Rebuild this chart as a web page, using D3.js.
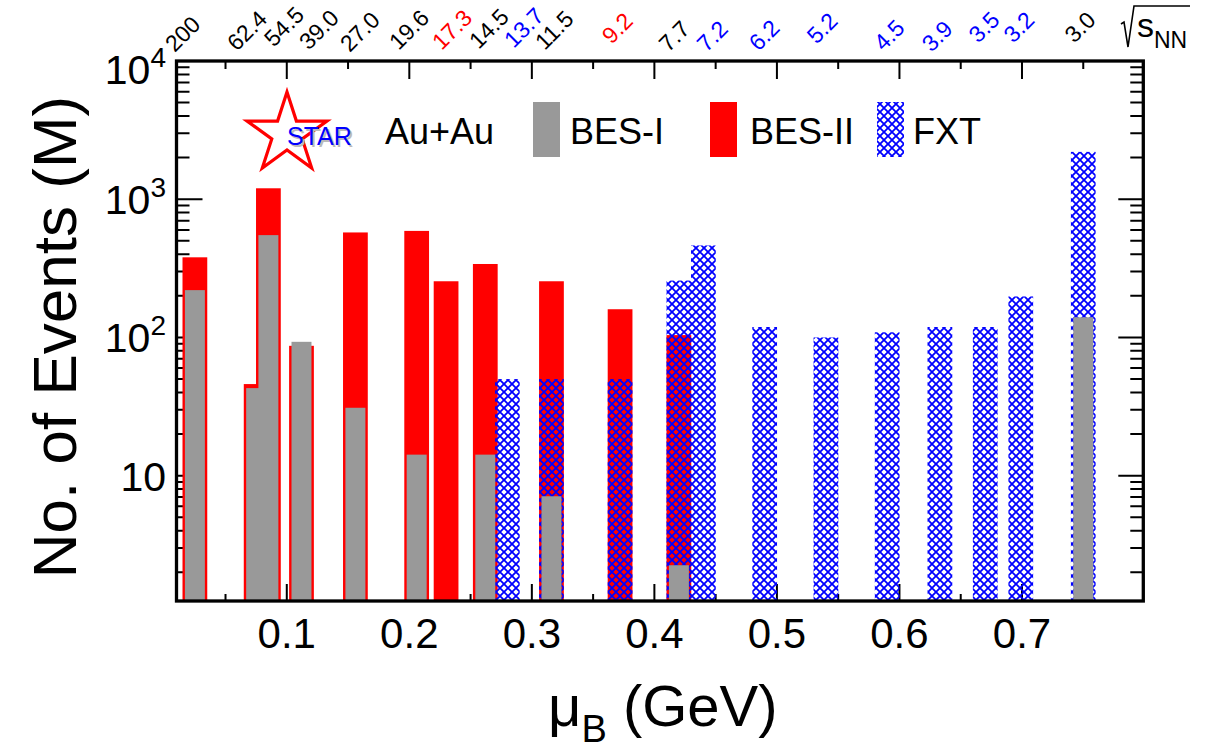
<!DOCTYPE html>
<html>
<head>
<meta charset="utf-8">
<script src="https://cdn.jsdelivr.net/npm/d3@7"></script>
<style>
  body { margin: 0; background: #fff; }
  svg { display: block; }
</style>
</head>
<body>
<svg id="chart"></svg>
<script>
// Data
const energies = ["200", "62.4", "54.5", "39.0", "27.0", "19.6", "17.3", "14.5", "13.7", "11.5",
                  "9.2", "7.7", "7.2", "6.2", "5.2", "4.5", "3.9", "3.5", "3.2", "3.0"];
const muB = [0.025, 0.075, 0.085, 0.112, 0.156, 0.206, 0.230, 0.262, 0.280, 0.316,
             0.372, 0.420, 0.440, 0.490, 0.540, 0.590, 0.633, 0.670, 0.699, 0.750];
// events in millions, null = no data at that energy
const besI  = [220, 43, 550, 93, 31, 14.2, null, 14.2, null, 7.1,
               null, 2.25, null, null, null, null, null, null, null, 140];
const besII = [380, 46, 1200, 87, 575, 590, 255, 340, null, 255,
               160, 104, null, null, null, null, null, null, null, null];
const fxt   = [null, null, null, null, null, null, null, null, 50, 50,
               50, 258, 463, 119, 100, 109, 119, 119, 198, 2200];

const xTicks = [0.1, 0.2, 0.3, 0.4, 0.5, 0.6, 0.7];
const yTicks = [10, 100, 1000, 10000];

// where the rotated sqrt(sNN) labels sit (muB of anchor, lift in px)
const labelMu   = [0.0086, 0.0592, 0.0894, 0.1179, 0.1514, 0.1914, 0.2265, 0.2566, 0.2852, 0.3105,
                   0.3651, 0.4116, 0.4426, 0.4850, 0.5323, 0.5869, 0.6261, 0.6644, 0.6929, 0.7427];
const labelLift = [0, 1, 5, 2, 0, 2, 2, 3, 4, 2, 8, 0, 0, 1, 8, 1, 0, 9, 9, 9];

// Configurations
const width = 1217, height = 751;
const font = "'Liberation Sans', Arial, Helvetica, sans-serif";
const wideBar = 0.0202;   // BES-II and FXT bar width in muB
const thinBar = 0.0163;   // BES-I bar width in muB
const red = "#ff0000", gray = "#999999", blue = "#0000ff";

const x = d3.scaleLinear([0.01, 0.799], [176.5, 1143.3]);
const y = d3.scaleLog([1.24, 1e4], [601, 61]);
const [x0, x1] = x.range();
const [y0, y1] = y.range();

const svg = d3.select("#chart")
  .attr("width", width)
  .attr("height", height)
  .attr("viewBox", [0, 0, width, height])
  .style("font-family", font);

svg.append("defs").append("pattern")
  .attr("id", "hatch")
  .attr("patternUnits", "userSpaceOnUse")
  .attr("width", 8).attr("height", 8)
  .append("path")
  .attr("d", "M-1,-1L9,9M9,-1L-1,9")
  .attr("stroke", blue)
  .attr("stroke-width", 1.8);

// ticks (drawn under the bars)
const ticks = svg.append("g").attr("stroke", "#000").attr("stroke-width", 2);
const xAll = d3.range(1, 16).map(i => i * 0.05);
ticks.selectAll(".xt").data(xAll).join("path")
  .attr("d", d => {
    const major = Math.abs(d * 10 - Math.round(d * 10)) < 1e-6;
    const px = x(d);
    return `M${px},${y0}v${major ? -17 : -7}M${px},${y1}v${major ? 18 : 8}`;
  });
const yMinor = [];
for (let k = 0; k < 4; k++) for (let m = 2; m <= 9; m++) {
  const v = m * Math.pow(10, k);
  if (v > y.domain()[0] && v < 1e4) yMinor.push(v);
}
ticks.selectAll(".ym").data(yMinor).join("path")
  .attr("d", d => `M${x0},${y(d)}h13M${x1},${y(d)}h-13`);
ticks.selectAll(".yM").data(yTicks).join("path")
  .attr("d", d => `M${x0},${y(d)}h26M${x1},${y(d)}h-25`);

// bars: BES-II underneath, FXT hatch over it, BES-I on top
function bars(values, w, fill) {
  const idx = d3.range(values.length).filter(i => values[i] != null);
  svg.append("g")
    .selectAll("rect")
    .data(idx)
    .join("rect")
    .attr("x", i => x(muB[i] - w / 2))
    .attr("width", i => x(muB[i] + w / 2) - x(muB[i] - w / 2))
    .attr("y", i => y(values[i]))
    .attr("height", i => y0 - y(values[i]))
    .attr("fill", fill);
}
bars(besII, wideBar, red);
bars(fxt, wideBar, "url(#hatch)");
bars(besI, thinBar, gray);

// frame
svg.append("rect")
  .attr("x", x0).attr("y", y1)
  .attr("width", x1 - x0).attr("height", y0 - y1)
  .attr("fill", "none")
  .attr("stroke", "#000")
  .attr("stroke-width", 3.3);

// x tick labels
svg.append("g")
  .attr("font-size", 42)
  .attr("text-anchor", "middle")
  .selectAll("text")
  .data(xTicks)
  .join("text")
  .attr("x", d => x(d))
  .attr("y", 648)
  .text(d => d.toFixed(1));

// y tick labels, 10^n
const yl = svg.append("g")
  .attr("font-size", 41)
  .attr("text-anchor", "end")
  .selectAll("text")
  .data(yTicks)
  .join("text")
  .attr("x", 166)
  .attr("y", d => y(d) + 15 + (d === 1e4 ? 8 : 0));
yl.append("tspan").text("10");
yl.filter(d => d > 10).append("tspan")
  .attr("font-size", 28)
  .attr("dy", -17)
  .text(d => Math.round(Math.log10(d)));

// axis titles
svg.append("text")
  .attr("transform", "translate(76,337) rotate(-90)")
  .attr("text-anchor", "middle")
  .attr("font-size", 62)
  .text("No. of Events (M)");

const xt = svg.append("text")
  .attr("x", 548)
  .attr("y", 726)
  .attr("font-size", 58);
xt.append("tspan").text("μ");
xt.append("tspan").attr("font-size", 38).attr("dy", 16).text("B");
xt.append("tspan").attr("dy", -16).text(" (GeV)");

// top labels: collision energy, coloured by programme
svg.append("g")
  .attr("font-size", 23)
  .selectAll("text")
  .data(d3.range(energies.length))
  .join("text")
  .attr("transform", i => `translate(${x(labelMu[i])},${53 - labelLift[i]}) rotate(-45)`)
  .attr("fill", i => besI[i] != null ? "#000" : besII[i] != null ? red : blue)
  .text(i => energies[i]);

// sqrt(s_NN)
svg.append("path")
  .attr("d", "M1121,24L1124,22L1128,47L1134,6H1190")
  .attr("fill", "none")
  .attr("stroke", "#000")
  .attr("stroke-width", 1.6);
const sq = svg.append("text").attr("x", 1137).attr("y", 37).attr("font-size", 34);
sq.append("tspan").text("s");
sq.append("tspan").attr("font-size", 23).attr("dy", 11).text("NN");

// legend
const starPts = d3.range(10).map(k => {
  const r = k % 2 ? 16 : 42, a = k * Math.PI / 5;
  return [287 + r * Math.sin(a), 134 - r * Math.cos(a)];
});
svg.append("path")
  .attr("d", "M" + starPts.join("L") + "Z")
  .attr("fill", "none")
  .attr("stroke", red)
  .attr("stroke-width", 3.2)
  .attr("stroke-linejoin", "miter");
svg.append("text").attr("x", 289).attr("y", 147).attr("font-size", 25)
  .attr("fill", "#bbb").text("STAR");
svg.append("text").attr("x", 287).attr("y", 145).attr("font-size", 25)
  .attr("fill", blue).text("STAR");

const legend = svg.append("g").attr("font-size", 36);
legend.append("text").attr("x", 385).attr("y", 144).text("Au+Au");
const items = [
  {label: "BES-I", fill: gray, rx: 533, tx: 570},
  {label: "BES-II", fill: red, rx: 710, tx: 750},
  {label: "FXT", fill: "url(#hatch)", rx: 877, tx: 913}
];
items.forEach(d => {
  legend.append("rect").attr("x", d.rx).attr("y", 102).attr("width", 27).attr("height", 55).attr("fill", d.fill);
  legend.append("text").attr("x", d.tx).attr("y", 144).text(d.label);
});
</script>
</body>
</html>
